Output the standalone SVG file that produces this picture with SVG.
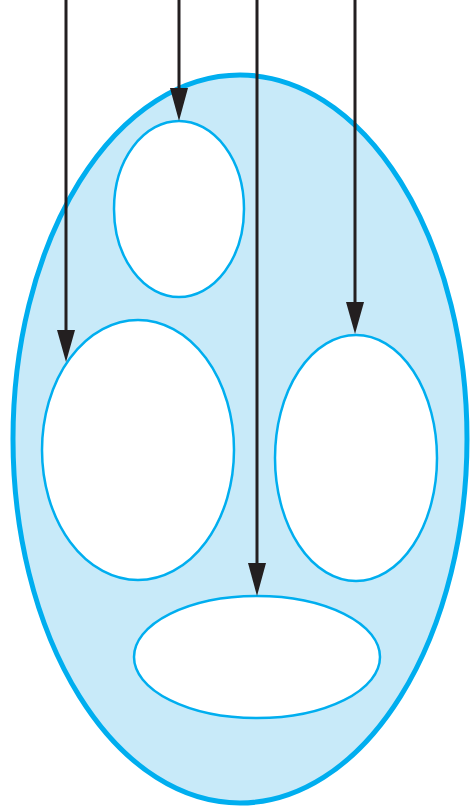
<svg xmlns="http://www.w3.org/2000/svg" width="473" height="808" viewBox="0 0 473 808">
<style>
.outer{fill:#c8eaf9;stroke:#00aeef;stroke-width:5}
.inner{fill:#ffffff;stroke:#00aeef;stroke-width:2.5}
.arrow{stroke:#231f20;stroke-width:3;fill:none}
.head{fill:#231f20}
</style>
<defs>
<marker id="ah" markerUnits="userSpaceOnUse" markerWidth="18" markerHeight="34" viewBox="0 0 18 34" refX="9" refY="34" orient="auto-start-reverse">
<path d="M0,0 L18,0 L9,34 Z" class="head"/>
</marker>
</defs>
<g id="outer"><ellipse class="outer" cx="240" cy="439" rx="227" ry="364"/></g>
<g id="top"><ellipse class="inner" cx="179" cy="209" rx="65" ry="88"/></g>
<g id="left"><ellipse class="inner" cx="138" cy="450" rx="96" ry="130"/></g>
<g id="right"><ellipse class="inner" cx="356" cy="458" rx="81" ry="123"/></g>
<g id="bottom"><ellipse class="inner" cx="257" cy="657" rx="123" ry="61"/></g>
<g id="connectors">
<path class="arrow" d="M66,0 V334"/><path class="head" d="M57,330 L75,330 L66,362 Z"/>
<path class="arrow" d="M179,0 V92"/><path class="head" d="M170,88 L188,88 L179,121 Z"/>
<path class="arrow" d="M257,0 V567"/><path class="head" d="M248,563 L266,563 L257,596 Z"/>
<path class="arrow" d="M355,0 V306"/><path class="head" d="M346,302 L364,302 L355,334 Z"/>
</g>
</svg>
